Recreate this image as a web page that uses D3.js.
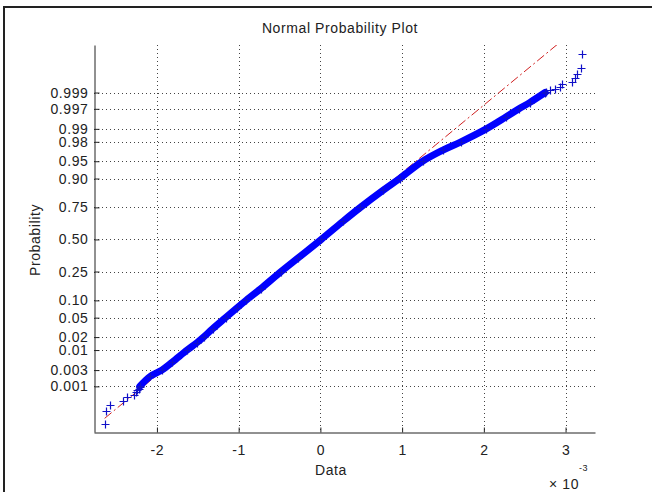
<!DOCTYPE html>
<html>
<head>
<meta charset="utf-8">
<script src="https://cdn.jsdelivr.net/npm/d3@7"></script>
<style>
  body { margin: 0; background: #fff; }
  text { font-family: "Liberation Sans", Arial, sans-serif; fill: #222; }
</style>
</head>
<body>
<div id="chart"></div>
<script>
// values (data in units of 1e-3)
let lowerTailProbs = [0.00005, 0.00015, 0.00025, 0.00035, 0.00045, 0.00055, 0.00065, 0.00075, 0.00085, 0.00095];
let lowerTailVals = [-2.64, -2.62, -2.58, -2.42, -2.37, -2.28, -2.26, -2.24, -2.22, -2.21];

let bodyProbs = [0.001, 0.002, 0.003, 0.005, 0.01, 0.015, 0.02, 0.03, 0.05, 0.075, 0.10, 0.15, 0.25, 0.35,
  0.50, 0.65, 0.75, 0.85, 0.90, 0.95, 0.97, 0.98, 0.99, 0.995, 0.997, 0.998, 0.999];
let bodyVals = [-2.21, -2.08, -1.94, -1.81, -1.63, -1.51, -1.43, -1.32, -1.16, -1.02, -0.91, -0.73, -0.48, -0.27,
  0.01, 0.28, 0.49, 0.77, 0.97, 1.25, 1.50, 1.72, 2.03, 2.27, 2.43, 2.56, 2.75];

let upperTailProbs = [0.99905, 0.99915, 0.99925, 0.99935, 0.99945, 0.99955, 0.99965, 0.99975, 0.99985, 0.99995];
let upperTailVals = [2.76, 2.81, 2.87, 2.93, 2.96, 3.08, 3.12, 3.14, 3.19, 3.20];

let refQuartiles = [-0.465, 0.485];   // data at p = 0.25 and 0.75

let xTicks = [-2, -1, 0, 1, 2, 3];
let yTicks = [0.001, 0.003, 0.01, 0.02, 0.05, 0.10, 0.25, 0.50, 0.75, 0.90, 0.95, 0.98, 0.99, 0.997, 0.999];
let yTickLabels = ["0.001", "0.003", "0.01", "0.02", "0.05", "0.10", "0.25", "0.50", "0.75", "0.90", "0.95", "0.98", "0.99", "0.997", "0.999"];

// inverse normal cdf (Acklam) - used as the probability axis transform
function norminv(p) {
  let a = [-39.69683028665376, 220.9460984245205, -275.9285104469687, 138.3577518672690, -30.66479806614716, 2.506628277459239];
  let b = [-54.47609879822406, 161.5858368580409, -155.6989798598866, 66.80131188771972, -13.28068155288572];
  let c = [-0.007784894002430293, -0.3223964580411365, -2.400758277161838, -2.549732539343734, 4.374664141464968, 2.938163982698783];
  let d = [0.007784695709041462, 0.3224671290700398, 2.445134137142996, 3.754408661907416];
  let plow = 0.02425, q, r;
  if (p < plow) {
    q = Math.sqrt(-2 * Math.log(p));
    return (((((c[0]*q+c[1])*q+c[2])*q+c[3])*q+c[4])*q+c[5]) / ((((d[0]*q+d[1])*q+d[2])*q+d[3])*q+1);
  } else if (p > 1 - plow) {
    q = Math.sqrt(-2 * Math.log(1 - p));
    return -(((((c[0]*q+c[1])*q+c[2])*q+c[3])*q+c[4])*q+c[5]) / ((((d[0]*q+d[1])*q+d[2])*q+d[3])*q+1);
  }
  q = p - 0.5; r = q * q;
  return (((((a[0]*r+a[1])*r+a[2])*r+a[3])*r+a[4])*r+a[5])*q / (((((b[0]*r+b[1])*r+b[2])*r+b[3])*r+b[4])*r+1);
}

let width = 652, height = 492;
let mLeft = 94, mRight = 595, mTop = 45, mBottom = 432;
let fontSize = '14px', spacing = '0.6px';

let svg = d3.select('#chart').append('svg')
  .attr('width', width)
  .attr('height', height);

// window frame
svg.append('path')
  .attr('d', `M4,${height} V7 H${width}`)
  .attr('fill', 'none')
  .attr('stroke', '#222')
  .attr('stroke-width', 2);

let x = d3.scaleLinear().domain([-2.77, 3.36]).range([mLeft, mRight]);
let z = d3.scaleLinear().domain([-4.05, 4.09]).range([mBottom, mTop]);
let y = p => z(norminv(p));

// grid
let grid = svg.append('g')
  .attr('stroke', '#444')
  .attr('stroke-width', 1)
  .attr('stroke-dasharray', '1,3');
grid.selectAll('.vg').data(xTicks).enter().append('line')
  .attr('x1', d => Math.round(x(d)) + 0.5).attr('x2', d => Math.round(x(d)) + 0.5)
  .attr('y1', mTop).attr('y2', mBottom);
grid.selectAll('.hg').data(yTicks).enter().append('line')
  .attr('y1', d => Math.round(y(d)) + 0.5).attr('y2', d => Math.round(y(d)) + 0.5)
  .attr('x1', mLeft).attr('x2', mRight);

// axes
let xAxis = d3.axisBottom(x).tickValues(xTicks).tickSizeInner(-5).tickSizeOuter(0).tickPadding(13)
  .tickFormat(d => d);
let gx = svg.append('g').attr('transform', `translate(0,${mBottom + 0.5})`).call(xAxis);

let yAxis = d3.axisLeft(z).tickValues(yTicks.map(norminv)).tickSizeInner(-5).tickSizeOuter(0).tickPadding(6)
  .tickFormat((d, i) => yTickLabels[i]);
let gy = svg.append('g').attr('transform', `translate(${mLeft + 0.5},0)`).call(yAxis);

[gx, gy].forEach(g => {
  g.select('.domain').attr('stroke', '#222');
  g.selectAll('.tick line').attr('stroke', '#222');
  g.selectAll('.tick text')
    .style('font-size', fontSize)
    .style('letter-spacing', spacing)
    .style('font-family', '"Liberation Sans", Arial, sans-serif')
    .attr('fill', '#222');
});

svg.append('defs').append('clipPath').attr('id', 'clip')
  .append('rect').attr('x', mLeft).attr('y', mTop).attr('width', mRight - mLeft).attr('height', mBottom - mTop);

// reference line through the quartiles, spanning the data range
let zq = [norminv(0.25), norminv(0.75)];
let slope = (zq[1] - zq[0]) / (refQuartiles[1] - refQuartiles[0]);
let xmin = d3.min(lowerTailVals), xmax = d3.max(upperTailVals);
let refLine = [xmin, xmax].map(v => [v, zq[0] + slope * (v - refQuartiles[0])]);

let plot = svg.append('g').attr('clip-path', 'url(#clip)');

plot.append('path')
  .datum(refLine)
  .attr('d', d3.line().x(d => x(d[0])).y(d => z(d[1])))
  .attr('fill', 'none')
  .attr('stroke', '#d02020')
  .attr('stroke-width', 1)
  .attr('stroke-dasharray', '9,3,2,3');

// dense part of the sample (thousands of overlapping markers)
let bodyPts = bodyProbs.map((p, i) => [bodyVals[i], p]);
plot.append('path')
  .datum(bodyPts)
  .attr('d', d3.line().curve(d3.curveCatmullRom).x(d => x(d[0])).y(d => y(d[1])))
  .attr('fill', 'none')
  .attr('stroke', '#0000ff')
  .attr('stroke-width', 7)
  .attr('stroke-linejoin', 'round')
  .attr('stroke-linecap', 'round');

let allPts = lowerTailProbs.map((p, i) => [lowerTailVals[i], p])
  .concat(bodyPts)
  .concat(upperTailProbs.map((p, i) => [upperTailVals[i], p]));

plot.selectAll('.plus').data(allPts).enter().append('path')
  .attr('class', 'plus')
  .attr('d', d => {
    let cx = Math.round(x(d[0])) + 0.5, cy = Math.round(y(d[1])) + 0.5;
    return `M${cx - 4},${cy}H${cx + 4}M${cx},${cy - 4}V${cy + 4}`;
  })
  .attr('stroke', '#1010c8')
  .attr('stroke-width', 1.2)
  .attr('fill', 'none');

// labels
let label = (xp, yp, t, size) => svg.append('text').attr('x', xp).attr('y', yp)
  .style('font-size', size || fontSize).style('letter-spacing', spacing).text(t);
label(340, 33, 'Normal Probability Plot').attr('text-anchor', 'middle');
label(331, 475, 'Data').attr('text-anchor', 'middle');
label(0, 0, 'Probability').attr('text-anchor', 'middle').attr('transform', 'translate(40,240) rotate(-90)');
label(549, 489, '\u00d7 10');
label(579, 471, '-3', '9px');
</script>
</body>
</html>
